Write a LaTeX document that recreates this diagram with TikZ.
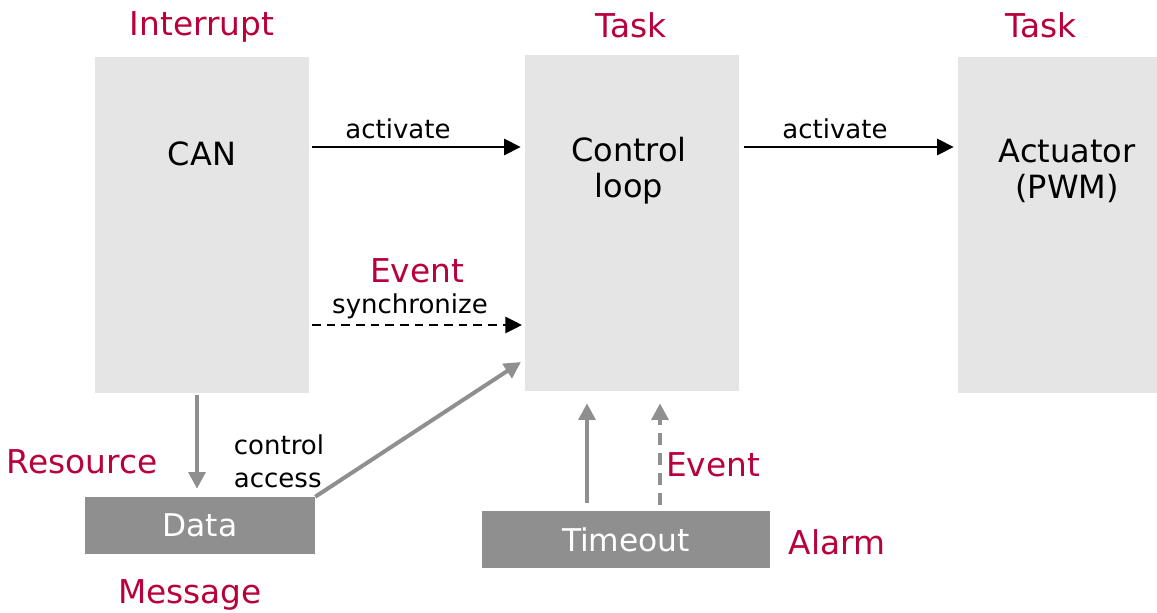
\documentclass[tikz,border=0pt]{standalone}
\usepackage{fontspec}
\setmainfont{DejaVu Sans}
\usetikzlibrary{arrows.meta}
\definecolor{lbox}{HTML}{E5E5E5}
\definecolor{dbox}{HTML}{8F8F8F}
\definecolor{redt}{HTML}{B8003A}
\begin{document}
\begin{tikzpicture}[x=0.75pt,y=-0.75pt,
  bigbox/.style={fill=lbox,draw=none,inner sep=0pt,minimum width=160.5pt,minimum height=252pt},
  darkbox/.style={fill=dbox,draw=none,inner sep=0pt,minimum height=42.75pt,text=white,font=\fontsize{23.5}{27}\selectfont},
  boxtext/.style={align=center,inner sep=0pt,font=\fontsize{24}{27}\selectfont},
  redlabel/.style={text=redt,inner sep=0pt,font=\fontsize{24.6}{28}\selectfont},
  smalllabel/.style={align=center,inner sep=0pt,font=\fontsize{19.5}{24.5}\selectfont},
  blackarr/.style={line width=2.2pt,-{Triangle[length=12.5pt,width=12pt]}},
  grayarr/.style={draw=dbox,line width=3pt,-{Triangle[length=12.5pt,width=12.5pt]}},
  blackdash/.style={blackarr,dash pattern=on 6.5pt off 4.5pt},
  graydash/.style={grayarr,dash pattern=on 9pt off 6pt}]
\useasboundingbox (0,0) rectangle (1157,613);
% boxes
\node[bigbox] (can) at (202,225) {};
\node[bigbox] (ctrl) at (632,223) {};
\node[bigbox,minimum width=149.25pt] (act) at (1057.5,225) {};
\node[darkbox,minimum width=172.5pt] (data) at (200,525.5) {Data};
\node[darkbox,minimum width=216pt] (tmo) at (626,539.5) {Timeout};
% box texts
\node[boxtext] (cantxt) at (202,154) {CAN};
\node[boxtext] (ctrltxt) at (629,171) {Control\\loop};
\node[boxtext] (acttxt) at (1067,171) {Actuator\\(PWM)};
% red labels
\node[redlabel] (l1) at (202,27) {Interrupt};
\node[redlabel] (l2) at (631,25) {Task};
\node[redlabel] (l3) at (1041,25) {Task};
\node[redlabel] (l4) at (417,271) {Event};
\node[redlabel] (l5) at (82,462) {Resource};
\node[redlabel] (l6) at (190,595) {Message};
\node[redlabel] (l7) at (713,465) {Event};
\node[redlabel] (l8) at (837,542) {Alarm};
% black labels
\node[smalllabel] (s1) at (398,129) {activate};
\node[smalllabel] (s2) at (835,129) {activate};
\node[smalllabel] (s3) at (410,306) {synchronize};
\node[smalllabel,align=left] (s4) at (279,461) {control\\access};
% arrow anchor coordinates
\coordinate (ya) at (0,147);
\coordinate (ys) at (0,325);
\coordinate (xc) at (197,0);
\coordinate (x1) at (587,0);
\coordinate (x2) at (660,0);
\coordinate (ctgt) at (521,362);
% arrows
\draw[blackarr,shorten <=2pt,shorten >=3pt] (can.east |- ya) -- (ctrl.west |- ya);
\draw[blackarr,shorten <=3.5pt,shorten >=3pt] (ctrl.east |- ya) -- (act.west |- ya);
\draw[blackdash,shorten <=2pt,shorten >=2pt] (can.east |- ys) -- (ctrl.west |- ys);
\draw[grayarr,shorten <=1pt,shorten >=6pt] (can.south -| xc) -- (data.north -| xc);
\draw[grayarr] (data.north east) -- (ctgt);
\draw[grayarr,shorten <=6pt,shorten >=9pt] (tmo.north -| x1) -- (ctrl.south -| x1);
\draw[graydash,shorten <=4pt,shorten >=9pt] (tmo.north -| x2) -- (ctrl.south -| x2);
\end{tikzpicture}
\end{document}
